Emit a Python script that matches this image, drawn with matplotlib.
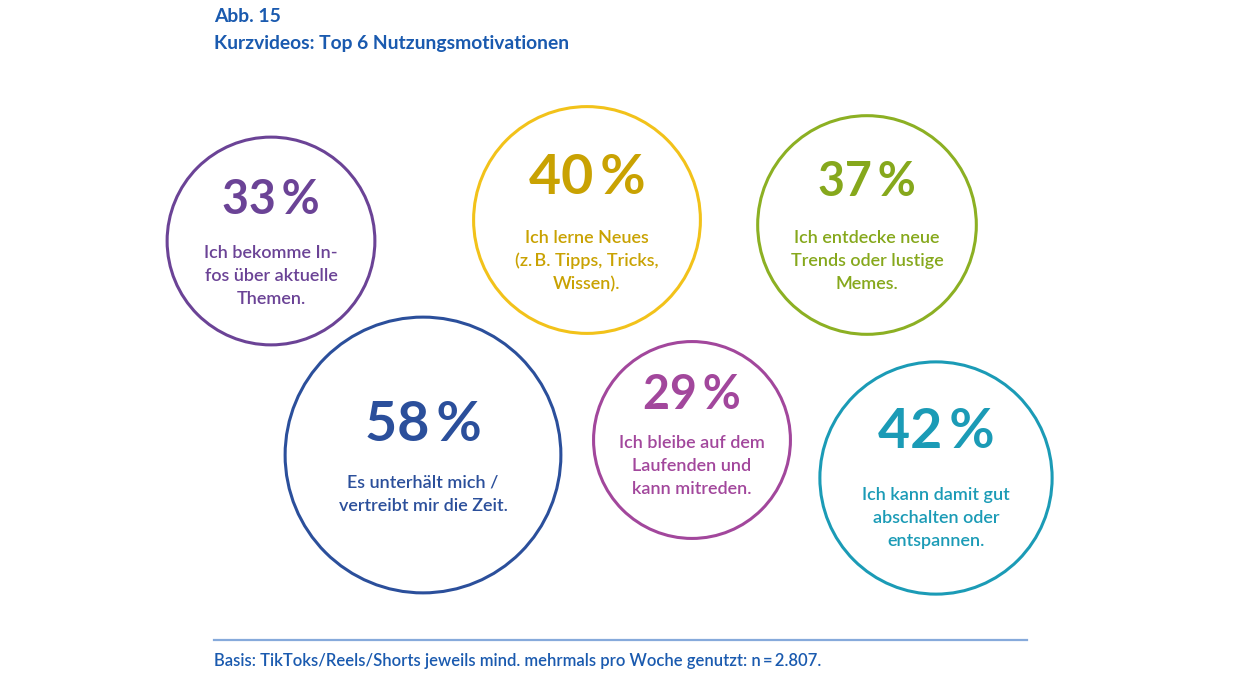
"""Kurzvideos: Top 6 Nutzungsmotivationen - bubble layout."""
import matplotlib
matplotlib.use("Agg")
import matplotlib.pyplot as plt
from matplotlib.patches import Circle

# ---------- data ----------
values = [33, 40, 37, 58, 29, 42]
labels = [
    ["Ich bekomme In-", "fos über aktuelle", "Themen."],
    ["Ich lerne Neues", "(z.\u2009B. Tipps, Tricks,", "Wissen)."],
    ["Ich entdecke neue", "Trends oder lustige", "Memes."],
    ["Es unterhält mich /", "vertreibt mir die Zeit."],
    ["Ich bleibe auf dem", "Laufenden und", "kann mitreden."],
    ["Ich kann damit gut", "abschalten oder", "entspannen."],
]
title_1 = "Abb. 15"
title_2 = "Kurzvideos: Top 6 Nutzungsmotivationen"
footnote = "Basis: TikToks/Reels/Shorts jeweils mind. mehrmals pro Woche genutzt: n\u2009=\u20092.807."

# ---------- layout (pixel coordinates) ----------
centers = [(271, 241), (587, 220), (867, 225), (423, 455), (692, 440), (936, 478)]
line_colors = ["#6b4396", "#f2c21a", "#8cb023", "#2b4f9b", "#a2479c", "#1b9bb6"]
text_colors = ["#6b4396", "#c9a202", "#86a81c", "#2b4f9b", "#a2479c", "#1b9bb6"]
pct_dy = [-41, -42, -43, -30, -45, -46]     # offset of the percent figure
txt_dy = [12, 18, 13, 28, 3, 17]            # offset of the first text line
LINE_STEP = 23
blue = "#1a5aaf"
FONT = "Lato"

W, H = 1260, 680
fig = plt.figure(figsize=(W / 100, H / 100), dpi=100)
ax = fig.add_axes([0, 0, 1, 1])
ax.set_xlim(0, W)
ax.set_ylim(H, 0)
ax.set_aspect("equal")
ax.axis("off")

for v, lines, (cx, cy), lc, tc, pdy, tdy in zip(values, labels, centers, line_colors,
                                                 text_colors, pct_dy, txt_dy):
    r = 59 + 1.36 * v           # bubble radius grows with the share
    ax.add_patch(Circle((cx, cy), r, fill=False, ec=lc, lw=2.2))
    big = v >= 40
    ax.text(cx, cy + pdy, f"{v}\u2009%", ha="center", va="center",
            fontsize=40 if big else 33.5, fontweight="bold", color=tc, family=FONT)
    for i, ln in enumerate(lines):
        ax.text(cx, cy + tdy + i * LINE_STEP, ln, ha="center", va="center",
                fontsize=13, fontweight="semibold", color=tc, family=FONT)

ax.text(214, 17, title_1, ha="left", va="center", fontsize=13.9,
        fontweight="bold", color=blue, family=FONT)
ax.text(214, 44, title_2, ha="left", va="center", fontsize=13.9,
        fontweight="bold", color=blue, family=FONT)

ax.plot([214, 1027], [640, 640], color="#86aadb", lw=1.6)
ax.text(214, 661, footnote, ha="left", va="center", fontsize=12,
        fontweight="semibold", color=blue, family=FONT)

fig.savefig("out.png", dpi=100)
